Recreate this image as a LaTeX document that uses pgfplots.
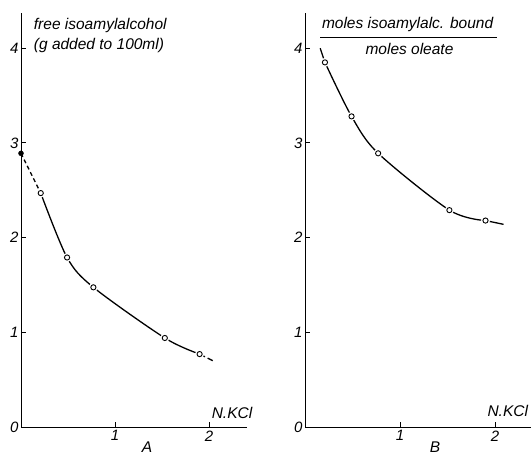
\documentclass[border=0pt]{standalone}
\usepackage{fontspec}
\setmainfont{Liberation Sans}
\usepackage{pgfplots}
\pgfplotsset{compat=1.18}
\begin{document}
\begin{tikzpicture}[font=\fontsize{15.5}{18}\selectfont\itshape]
\path[use as bounding box] (-21pt,-29pt) rectangle (510pt,427pt);
\pgfplotsset{
  panel/.style={
    x=94pt, y=94.7pt,
    xmin=0, xmax=2.4, ymin=0, ymax=4.37,
    axis lines*=left,
    axis line style={line width=1pt},
    tick align=inside,
    major tick length=5pt,
    tick style={line width=0.9pt, black},
    xtick={1,2}, xticklabels={1,2},
    ytick={0,1,2,3,4}, yticklabels={0,1,2,3,4},
    tick label style={font=\fontsize{15}{17}\selectfont\itshape},
    yticklabel style={xshift=1pt},
    clip=false,
    anchor=origin,
  },
  curve/.style={black, line width=1.3pt, smooth, no marks},
  halo/.style={only marks, mark=*, mark size=4.3pt, mark options={draw=white, fill=white}},
  ring/.style={only marks, mark=o, mark size=2.6pt, mark options={line width=0.9pt, black, fill=white}},
}

% panel A
\begin{axis}[panel, at={(0pt,0pt)}]
\addplot[curve, dash pattern=on 4pt off 3pt] coordinates {(0,2.89) (0.21,2.47)};
\addplot[curve] coordinates {(0.21,2.47) (0.49,1.79) (0.77,1.475) (1.53,0.94) (1.90,0.77)};
\addplot[curve, dash pattern=on 6pt off 3pt] coordinates {(1.90,0.77) (2.04,0.70)};
\addplot[halo] coordinates {(0.21,2.47) (0.49,1.79) (0.77,1.475) (1.53,0.94) (1.90,0.77)};
\addplot[ring] coordinates {(0.21,2.47) (0.49,1.79) (0.77,1.475) (1.53,0.94) (1.90,0.77)};
\addplot[only marks, mark=*, mark size=2.5pt, black] coordinates {(0,2.89)};
\node[anchor=west] at (axis cs:0.10,4.245) {free isoamylalcohol};
\node[anchor=west] at (axis cs:0.10,4.03) {(g added to 100ml)};
\node at (axis cs:2.245,0.15) {N.KCl};
\node at (axis cs:1.34,-0.21) {A};
\end{axis}

% panel B
\begin{axis}[panel, at={(284pt,0pt)}, x=95pt]
\addplot[curve] coordinates {(0.16,4.0) (0.21,3.85)};
\addplot[curve] coordinates {(0.21,3.85) (0.49,3.28) (0.77,2.89) (1.52,2.29) (1.90,2.18)};
\addplot[curve] coordinates {(1.90,2.18) (2.09,2.14)};
\addplot[halo] coordinates {(0.21,3.85) (0.49,3.28) (0.77,2.89) (1.52,2.29) (1.90,2.18)};
\addplot[ring] coordinates {(0.21,3.85) (0.49,3.28) (0.77,2.89) (1.52,2.29) (1.90,2.18)};
\node at (axis cs:1.08,4.25) {moles isoamylalc. bound};
\draw[line width=0.9pt] (axis cs:0.158,4.11) -- (axis cs:2.02,4.11);
\node at (axis cs:1.10,3.99) {moles oleate};
\node[anchor=east, inner sep=1pt] at (axis cs:2.36,0.17) {N.KCl};
\node at (axis cs:1.37,-0.21) {B};
\end{axis}
\end{tikzpicture}
\end{document}
